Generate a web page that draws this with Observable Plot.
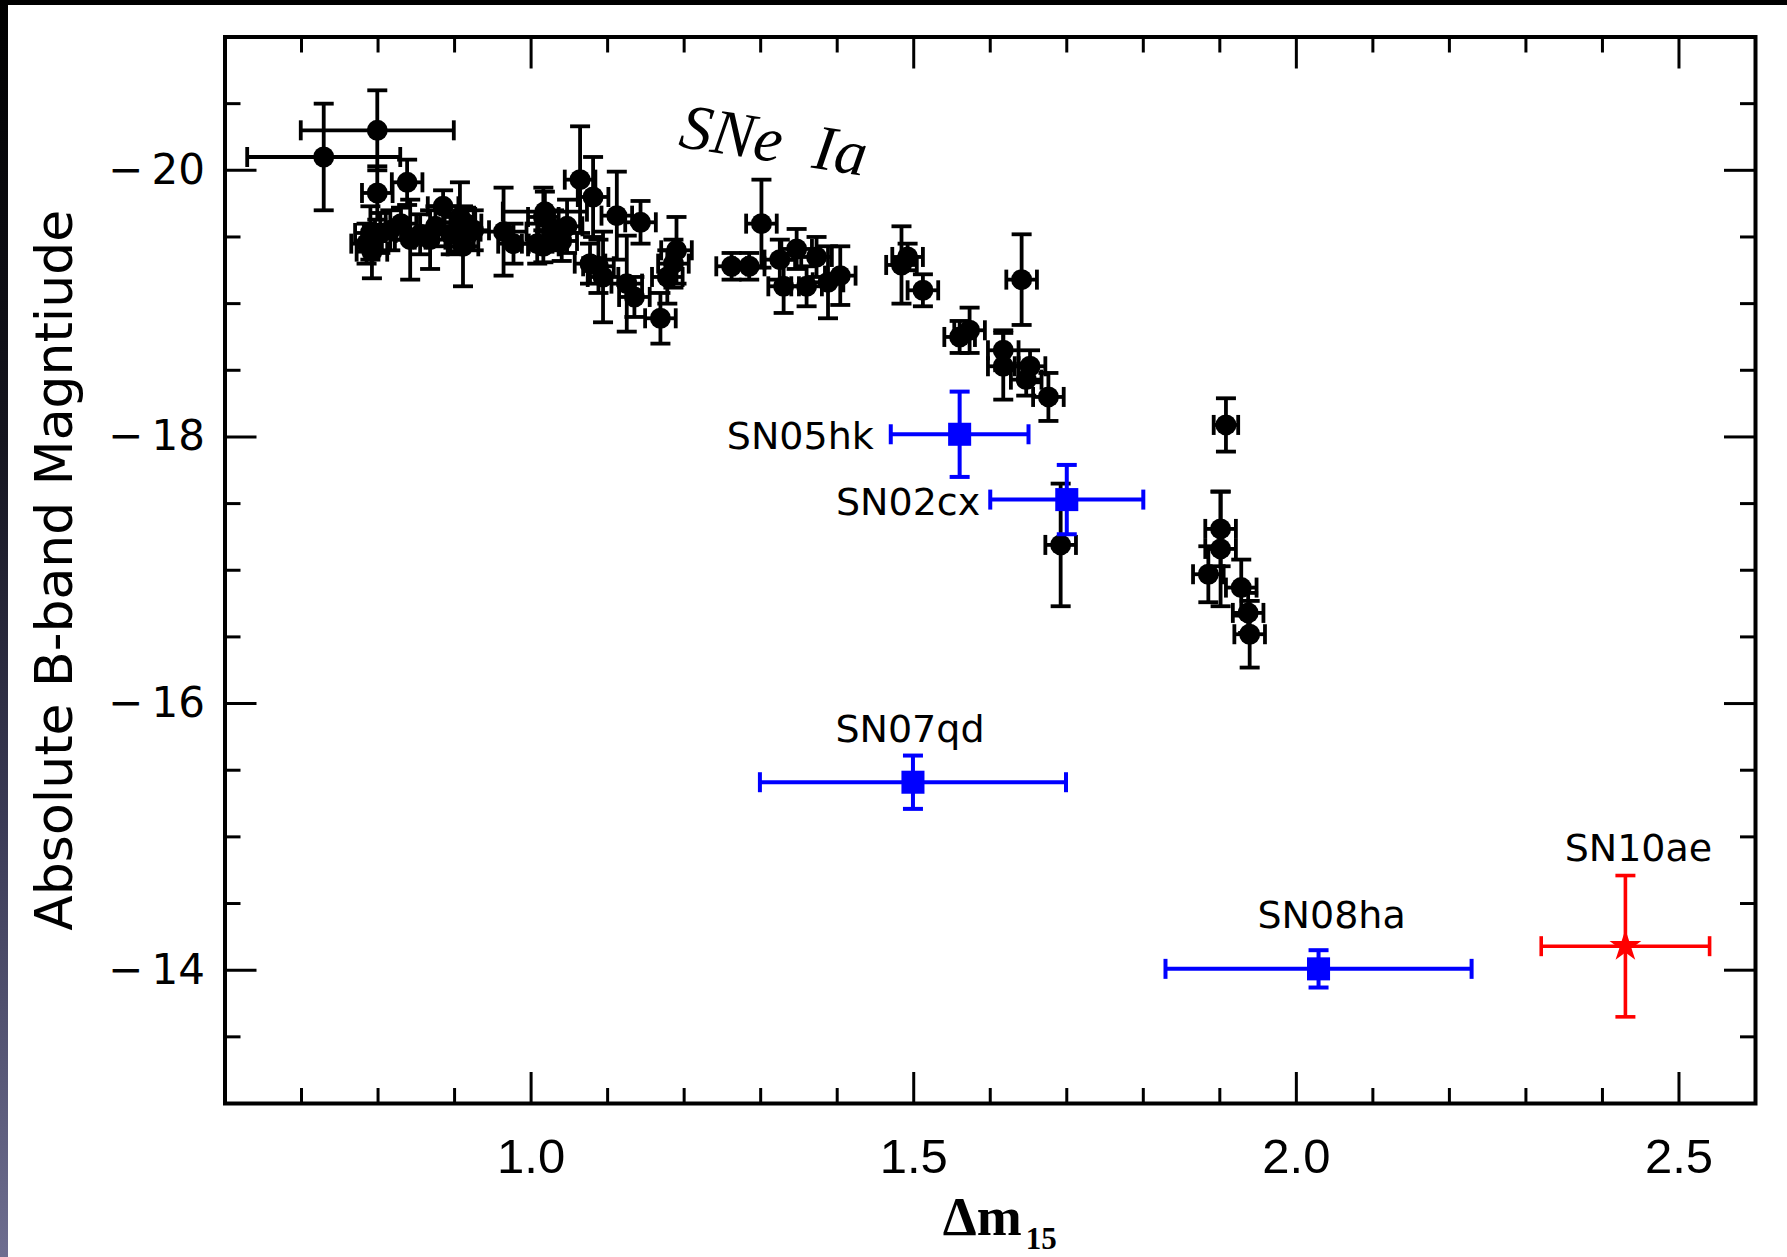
<!DOCTYPE html>
<html>
<head>
<meta charset="utf-8">
<script src="https://cdn.jsdelivr.net/npm/d3@7"></script>
<script src="https://cdn.jsdelivr.net/npm/@observablehq/plot@0.6"></script>
<style>
html, body { margin: 0; padding: 0; }
body {
  width: 1787px; height: 1257px; overflow: hidden; position: relative;
  background: linear-gradient(to bottom, #000 0%, #15151f 35%, #3a3a55 65%, #6e6e90 100%);
}
#chart { position: absolute; left: 8px; top: 5px; width: 1779px; height: 1252px; background: #fff; }
</style>
</head>
<body>
<div id="chart"></div>
<script>
// ---- Normal SNe Ia (black) ----
const iaDm15 = [0.729, 0.785, 0.790, 0.792, 0.799, 0.799, 0.803, 0.816, 0.830, 0.838, 0.842, 0.855, 0.868, 0.875,
  0.885, 0.895, 0.907, 0.911, 0.915, 0.925,
  0.964, 0.977, 1.008, 1.016, 1.018, 1.016, 1.030, 1.040, 1.047, 1.064, 1.077, 1.081, 1.088, 1.094, 1.112, 1.125,
  1.135, 1.143, 1.169, 1.178, 1.186, 1.190, 1.262, 1.285, 1.301, 1.325, 1.330, 1.347, 1.360, 1.373, 1.388, 1.404,
  1.484, 1.492, 1.512, 1.560, 1.573, 1.617, 1.617, 1.641, 1.647, 1.652, 1.676, 1.692, 1.885, 1.901, 1.901, 1.908,
  1.928, 1.937, 1.939];
const iaMag = [-20.10, -19.45, -19.53, -19.39, -20.30, -19.83, -19.53, -19.55, -19.60, -19.91, -19.48, -19.52, -19.48, -19.58,
  -19.73, -19.52, -19.65, -19.43, -19.60, -19.55,
  -19.54, -19.45, -19.45, -19.65, -19.69, -19.43, -19.55, -19.47, -19.58, -19.93, -19.30, -19.80, -19.28, -19.20, -19.66, -19.15,
  -19.05, -19.61, -18.89, -19.20, -19.30, -19.40, -19.28, -19.28, -19.60, -19.33, -19.13, -19.41, -19.13, -19.35, -19.16, -19.21,
  -19.29, -19.35, -19.10, -18.75, -18.80, -18.65, -18.53, -19.18, -18.43, -18.53, -18.30, -17.19, -16.97, -17.31, -17.16, -18.09,
  -16.87, -16.68, -16.52];
const iaDm15Err = [0.10, 0.02, 0.02, 0.02, 0.10, 0.02, 0.02, 0.02, 0.02, 0.02, 0.02, 0.02, 0.02, 0.02,
  0.02, 0.02, 0.02, 0.02, 0.02, 0.02,
  0.03, 0.02, 0.02, 0.02, 0.055, 0.02, 0.02, 0.02, 0.02, 0.02, 0.02, 0.02, 0.02, 0.02, 0.02, 0.02,
  0.02, 0.02, 0.02, 0.02, 0.02, 0.02, 0.02, 0.02, 0.02, 0.02, 0.02, 0.02, 0.02, 0.02, 0.02, 0.02,
  0.02, 0.02, 0.02, 0.02, 0.02, 0.02, 0.02, 0.02, 0.02, 0.02, 0.02, 0.02, 0.02, 0.02, 0.02, 0.016,
  0.02, 0.02, 0.02];
const iaMagErr = [0.40, 0.15, 0.20, 0.20, 0.30, 0.20, 0.15, 0.15, 0.12, 0.17, 0.30, 0.15, 0.22, 0.15,
  0.12, 0.15, 0.26, 0.30, 0.12, 0.15,
  0.33, 0.15, 0.15, 0.22, 0.15, 0.12, 0.15, 0.15, 0.20, 0.40, 0.15, 0.30, 0.20, 0.34, 0.33, 0.36,
  0.15, 0.16, 0.19, 0.20, 0.18, 0.25, 0.10, 0.10, 0.33, 0.15, 0.20, 0.15, 0.15, 0.15, 0.27, 0.22,
  0.29, 0.10, 0.12, 0.12, 0.17, 0.15, 0.25, 0.34, 0.12, 0.12, 0.18, 0.46, 0.21, 0.28, 0.43, 0.20,
  0.21, 0.15, 0.25];

// ---- Peculiar (blue squares) ----
const pecNames = ["SN05hk", "SN02cx", "SN07qd", "SN08ha"];
const pecDm15 = [1.560, 1.700, 1.499, 2.029];
const pecMag = [-18.02, -17.53, -15.41, -14.01];
const pecDm15Err = [0.09, 0.10, 0.20, 0.20];
const pecMagErr = [0.32, 0.26, 0.20, 0.14];

// ---- SN 2010ae (red star) ----
const aeName = ["SN10ae"];
const aeDm15 = [2.430];
const aeMag = [-14.18];
const aeDm15Err = [0.11];
const aeMagErr = [0.53];

// ---- Annotation & axes text ----
const groupLabel = ["SNe\u2002Ia"];
const groupLabelDm15 = [1.317];
const groupLabelMag = [-20.22];
const xMajorTicks = [1.0, 1.5, 2.0, 2.5];
const xTickLabels = ["1.0", "1.5", "2.0", "2.5"];
const xMinorTicks = [0.7, 0.8, 0.9, 1.1, 1.2, 1.3, 1.4, 1.6, 1.7, 1.8, 1.9, 2.1, 2.2, 2.3, 2.4];
const yMajorTicks = [-20, -18, -16, -14];
const yTickLabels = ["\u2212\u200920", "\u2212\u200918", "\u2212\u200916", "\u2212\u200914"];
const yMinorTicks = [-20.5, -19.5, -19, -18.5, -17.5, -17, -16.5, -15.5, -15, -14.5, -13.5];
const yTitle = ["Absolute B-band Magntiude"];
const xTitleMain = ["\u0394m"];
const xTitleSub = ["15"];

// ---- tables ----
const ia = iaDm15.map((x, i) => ({x, y: iaMag[i], xe: iaDm15Err[i], ye: iaMagErr[i]}));
const pec = pecNames.map((name, i) => ({name, x: pecDm15[i], y: pecMag[i], xe: pecDm15Err[i], ye: pecMagErr[i]}));
const ae = aeName.map((name, i) => ({name, x: aeDm15[i], y: aeMag[i], xe: aeDm15Err[i], ye: aeMagErr[i]}));

// cap symbols (fixed pixel size)
const capH = {draw(ctx, size) { const r = Math.sqrt(size / Math.PI); ctx.moveTo(-r, 0); ctx.lineTo(r, 0); }};
const capV = {draw(ctx, size) { const r = Math.sqrt(size / Math.PI); ctx.moveTo(0, -r); ctx.lineTo(0, r); }};

function errorBars(data, color, sw, capR) {
  return [
    Plot.ruleX(data, {x: "x", y1: d => d.y - d.ye, y2: d => d.y + d.ye, stroke: color, strokeWidth: sw}),
    Plot.ruleY(data, {y: "y", x1: d => d.x - d.xe, x2: d => d.x + d.xe, stroke: color, strokeWidth: sw}),
    Plot.dot(data, {x: "x", y: d => d.y - d.ye, symbol: capH, r: capR, fill: "none", stroke: color, strokeWidth: sw}),
    Plot.dot(data, {x: "x", y: d => d.y + d.ye, symbol: capH, r: capR, fill: "none", stroke: color, strokeWidth: sw}),
    Plot.dot(data, {x: d => d.x - d.xe, y: "y", symbol: capV, r: capR, fill: "none", stroke: color, strokeWidth: sw}),
    Plot.dot(data, {x: d => d.x + d.xe, y: "y", symbol: capV, r: capR, fill: "none", stroke: color, strokeWidth: sw})
  ];
}

const labelFont = {fontFamily: "DejaVu Sans", fontSize: 38, fill: "#000"};
const tickStroke = {stroke: "#000", strokeWidth: 3, fill: "none", label: null};

const chart = Plot.plot({
  width: 1779,
  height: 1252,
  marginLeft: 216.5,
  marginRight: 32,
  marginTop: 31.5,
  marginBottom: 154,
  style: "background:#fff;color:#000;overflow:visible;",
  x: {domain: [0.6, 2.6], axis: null},
  y: {domain: [-21, -13], reverse: true, axis: null},
  marks: [
    // inward ticks on all four sides
    Plot.axisX(xMinorTicks, {anchor: "bottom", tickSize: -15, ...tickStroke}),
    Plot.axisX(xMajorTicks, {anchor: "bottom", tickSize: -31, ...tickStroke}),
    Plot.axisX(xMinorTicks, {anchor: "top", tickSize: -15, ...tickStroke}),
    Plot.axisX(xMajorTicks, {anchor: "top", tickSize: -31, ...tickStroke}),
    Plot.axisY(yMinorTicks, {anchor: "left", tickSize: -16, ...tickStroke}),
    Plot.axisY(yMajorTicks, {anchor: "left", tickSize: -32, ...tickStroke}),
    Plot.axisY(yMinorTicks, {anchor: "right", tickSize: -16, ...tickStroke}),
    Plot.axisY(yMajorTicks, {anchor: "right", tickSize: -32, ...tickStroke}),
    // tick labels
    Plot.axisX(xMajorTicks, {anchor: "bottom", tickSize: 0, tickPadding: 35, label: null,
      tickFormat: (d, i) => xTickLabels[i], fontSize: 49, fontFamily: "Liberation Sans", fill: "#000"}),
    Plot.axisY(yMajorTicks, {anchor: "left", tickSize: 0, tickPadding: 20, label: null,
      tickFormat: (d, i) => yTickLabels[i], fontSize: 42, fontFamily: "DejaVu Sans", fill: "#000"}),
    // axis titles
    Plot.text(yTitle, {frameAnchor: "left", textAnchor: "middle", lineAnchor: "middle", dx: -170, rotate: -90,
      text: d => d, fontSize: 46, fontFamily: "DejaVu Sans", fill: "#000"}),
    Plot.text(xTitleMain, {frameAnchor: "bottom", textAnchor: "middle", lineAnchor: "middle", dx: -8, dy: 114,
      text: d => d, fontSize: 54, fontWeight: "bold", fontFamily: "Liberation Serif", fill: "#000"}),
    Plot.text(xTitleSub, {frameAnchor: "bottom", textAnchor: "middle", lineAnchor: "middle", dx: 51, dy: 136,
      text: d => d, fontSize: 31, fontWeight: "bold", fontFamily: "Liberation Serif", fill: "#000"}),
    // SNe Ia
    ...errorBars(ia, "#000", 3.8, 10),
    Plot.dot(ia, {x: "x", y: "y", r: 10.5, fill: "#000", symbol: "circle"}),
    // peculiar
    ...errorBars(pec, "#0000ff", 4, 10),
    Plot.dot(pec, {x: "x", y: "y", r: 13, fill: "#0000ff", symbol: "square"}),
    // SN 2010ae
    ...errorBars(ae, "#ff0000", 3.6, 10),
    Plot.dot(ae, {x: "x", y: "y", r: 10, fill: "#ff0000", symbol: "star"}),
    // labels
    Plot.text(pec.filter(d => d.name === "SN05hk"), {x: d => d.x - d.xe, y: "y", text: "name", textAnchor: "end", dx: -17, dy: 3, ...labelFont}),
    Plot.text(pec.filter(d => d.name === "SN02cx"), {x: d => d.x - d.xe, y: "y", text: "name", textAnchor: "end", dx: -10, dy: 3, ...labelFont}),
    Plot.text(pec.filter(d => d.name === "SN07qd"), {x: "x", y: "y", text: "name", dx: -3, dy: -52, ...labelFont}),
    Plot.text(pec.filter(d => d.name === "SN08ha"), {x: "x", y: "y", text: "name", dx: 13, dy: -53, ...labelFont}),
    Plot.text(ae, {x: "x", y: "y", text: "name", dx: 13, dy: -97, ...labelFont}),
    Plot.text(groupLabel, {x: groupLabelDm15, y: groupLabelMag, text: d => d, rotate: 9, fontSize: 64,
      fontStyle: "italic", fontFamily: "Liberation Serif", fill: "#000"}),
    // frame
    Plot.frame({stroke: "#000", strokeWidth: 4})
  ]
});

document.getElementById("chart").appendChild(chart);

// size the y title so it spans the same length as in the original (721 px)
d3.select(chart).selectAll("text")
  .filter(function() { return this.textContent === yTitle[0]; })
  .each(function() {
    const L = this.getComputedTextLength();
    if (L > 0) this.setAttribute("font-size", (46 * 721 / L).toFixed(2));
  });
</script>
</body>
</html>
